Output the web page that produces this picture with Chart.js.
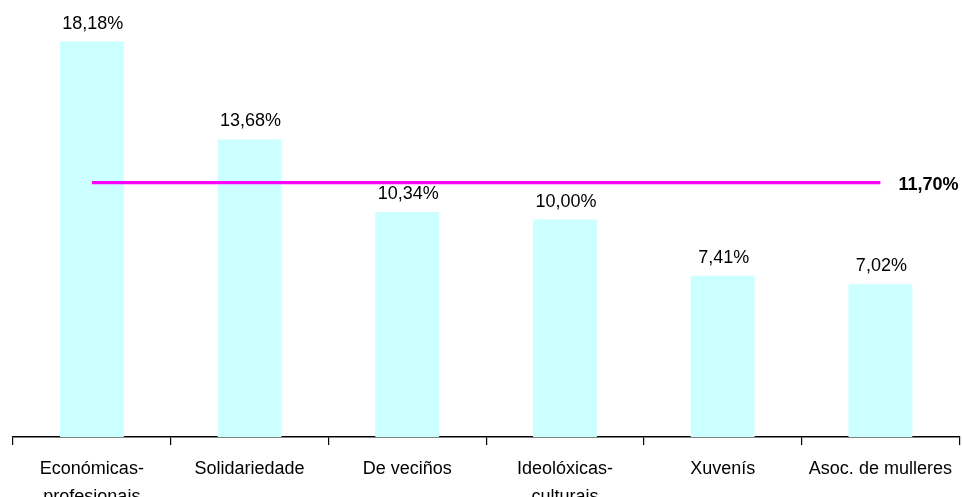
<!DOCTYPE html>
<html>
<head>
<meta charset="utf-8">
<script src="https://cdn.jsdelivr.net/npm/chart.js@4"></script>
<style>
  html, body { margin: 0; padding: 0; background: #fff; }
  #wrap { width: 962px; height: 497px; }
</style>
</head>
<body>
<div id="wrap"><canvas id="myChart"></canvas></div>
<script>
// Datos del gráfico
const categorias = [
  ['Económicas-', 'profesionais'],
  'Solidariedade',
  'De veciños',
  ['Ideolóxicas-', 'culturais'],
  'Xuvenís',
  'Asoc. de mulleres'
];
const porcentajes = [18.18, 13.68, 10.34, 10.00, 7.41, 7.02];
const media = 11.70;
const mediaSerie = [media, media, media, media, media, media];

const fmt = v => v.toFixed(2).replace('.', ',') + '%';
const fuente = '"Liberation Sans", Arial, sans-serif';

// Etiquetas encima de las barras y de la línea media
const etiquetas = {
  id: 'etiquetas',
  afterDatasetsDraw(chart) {
    const ctx = chart.ctx;
    ctx.save();
    ctx.fillStyle = '#000';
    ctx.textAlign = 'center';
    ctx.textBaseline = 'alphabetic';
    ctx.font = '18px ' + fuente;
    chart.getDatasetMeta(0).data.forEach((bar, i) => {
      ctx.fillText(fmt(porcentajes[i]), bar.x + 1, bar.y - 13);
    });
    const pts = chart.getDatasetMeta(1).data;
    const last = pts[pts.length - 1];
    ctx.font = 'bold 18px ' + fuente;
    ctx.textAlign = 'left';
    ctx.textBaseline = 'middle';
    ctx.fillText(fmt(media), last.x + 18, last.y + 3);
    ctx.restore();
  }
};

const ctx = document.getElementById('myChart').getContext('2d');
new Chart(ctx, {
  type: 'bar',
  data: {
    labels: categorias,
    datasets: [
      {
        label: 'Porcentaxe',
        data: porcentajes,
        backgroundColor: '#CCFFFF',
        borderWidth: 0,
        categoryPercentage: 1,
        barPercentage: 0.405,
        order: 2
      },
      {
        type: 'line',
        label: 'Media',
        data: mediaSerie,
        borderColor: '#FF00FF',
        borderWidth: 3.3,
        pointRadius: 0,
        fill: false,
        order: 1
      }
    ]
  },
  options: {
    responsive: true,
    maintainAspectRatio: false,
    animation: false,
    layout: { padding: { left: 13, right: 1, top: 2, bottom: 0 } },
    plugins: {
      legend: { display: false },
      tooltip: { enabled: false }
    },
    scales: {
      x: {
        offset: true,
        afterFit: scale => { scale.height = 60; },
        grid: {
          offset: true,
          drawOnChartArea: false,
          drawTicks: true,
          tickLength: 8,
          color: '#000',
          lineWidth: 1.2
        },
        border: { color: '#000', width: 1.5 },
        ticks: {
          color: '#000',
          padding: 10,
          maxRotation: 0,
          autoSkip: false,
          font: { family: fuente, size: 18, lineHeight: 1.55 }
        }
      },
      y: {
        display: false,
        min: 0,
        max: 20
      }
    }
  },
  plugins: [etiquetas]
});
</script>
</body>
</html>
